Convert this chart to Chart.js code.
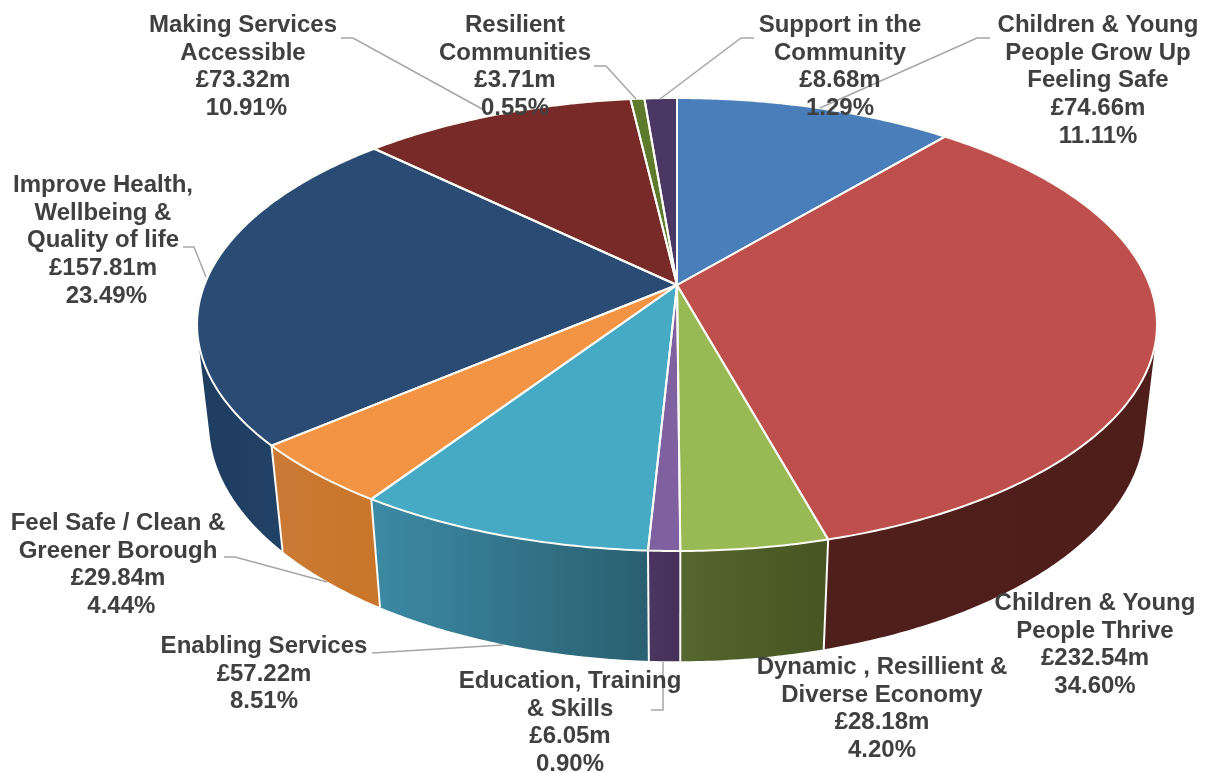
<!DOCTYPE html>
<html>
<head>
<meta charset="utf-8">
<style>
  html, body { margin: 0; padding: 0; background: #ffffff; }
  canvas { display: block; }
</style>
<script src="https://cdn.jsdelivr.net/npm/chart.js@4/dist/chart.umd.min.js"></script>
</head>
<body>
<canvas id="budget" width="1208" height="773"></canvas>
<script>
// Budget by outcome, in £m, clockwise from twelve o'clock.
const categories = [
  ["Children & Young", "People Grow Up", "Feeling Safe"],
  ["Children & Young", "People Thrive"],
  ["Dynamic , Resillient &", "Diverse Economy"],
  ["Education, Training", "& Skills"],
  ["Enabling Services"],
  ["Feel Safe / Clean &", "Greener Borough"],
  ["Improve Health,", "Wellbeing &", "Quality of life"],
  ["Making Services", "Accessible"],
  ["Resilient", "Communities"],
  ["Support in the", "Community"]
];
const budgetMillions = [74.66, 232.54, 28.18, 6.05, 57.22, 29.84, 157.81, 73.32, 3.71, 8.68];
const sharePercent = [11.11, 34.60, 4.20, 0.90, 8.51, 4.44, 23.49, 10.91, 0.55, 1.29];

// Slice styling.
const topColours = ["#4a7ebb", "#be4f4c", "#98b954", "#7f60a0", "#46aac5", "#f29443", "#2a4b74", "#772a27", "#5e7a2c", "#4a3764"];
const sideColours = [
  ["#2f5078", "#2f5078"], ["#4f1f1c", "#4f1e1b"], ["#55662e", "#465522"], ["#4a3660", "#443058"],
  ["#3c8aa5", "#2a5f70"], ["#cb7a36", "#c97529"], ["#1e3d60", "#25466c"], ["#4f1e1c", "#4f1e1c"],
  ["#3f5020", "#3f5020"], ["#32264a", "#32264a"]
];

// Label placement: centre x, first baseline, and whether the share line carries a leading space.
const labelLayout = [
  { x: 1098, y: 32, pad: false }, { x: 1095, y: 610, pad: false }, { x: 882, y: 674, pad: false },
  { x: 570, y: 688, pad: false }, { x: 264, y: 653, pad: false }, { x: 118, y: 530, pad: true },
  { x: 103, y: 192, pad: true }, { x: 243, y: 32, pad: true }, { x: 515, y: 32, pad: false },
  { x: 840, y: 32, pad: false }
];
const leaderLines = [
  [[990, 38], [977, 38], [820, 108]],
  null, null,
  [[651, 710], [663, 710], [663, 662]],
  [[372, 653], [503, 645]],
  [[224, 557], [235, 557], [327, 582]],
  [[183, 247], [194, 247], [206, 277]],
  [[341, 38], [353, 38], [484, 110]],
  [[594, 66], [606, 66], [636, 99]],
  [[754, 38], [741, 38], [660, 99]]
];

// Camera model for the tilted disc: pivot, horizontal and vertical scale, foreshortening,
// then the downward shift and depth change of the lower rim.
const view = { cx: 677, cy: 285, kx: 472.6, ky: 219.6, p: 0.1744, drop: 100.5, deep: 0.025 };

function project(angle, radial, lower) {
  const u = Math.cos(angle) * radial;
  const v = Math.sin(angle) * radial;
  const w = 1 - view.p * v + (lower ? view.deep : 0);
  return {
    x: view.cx + view.kx * u / w,
    y: view.cy + (view.ky * v + (lower ? view.drop : 0)) / w
  };
}

function rimPoints(start, end, lower) {
  const steps = Math.max(4, Math.ceil((end - start) / 0.01));
  const pts = [];
  for (let i = 0; i <= steps; i++) pts.push(project(start + (end - start) * i / steps, 1, lower));
  return pts;
}

// Adds one wall quad to the current path, always wound the same way so the union fills solid.
function addQuad(ctx, a, b, c, d) {
  const q = [a, b, c, d];
  let area = 0;
  q.forEach((p, i) => {
    const n = q[(i + 1) % 4];
    area += p.x * n.y - n.x * p.y;
  });
  if (area < 0) q.reverse();
  ctx.moveTo(q[0].x, q[0].y);
  ctx.lineTo(q[1].x, q[1].y);
  ctx.lineTo(q[2].x, q[2].y);
  ctx.lineTo(q[3].x, q[3].y);
  ctx.closePath();
}

const tiltedPie = {
  id: "tiltedPie",
  beforeDatasetsDraw(chart) {
    const ctx = chart.ctx;
    const arcs = chart.getDatasetMeta(0).data;
    ctx.save();
    ctx.lineJoin = "round";

    // Outer wall first, so the top faces can cover its back half.
    arcs.forEach((arc, i) => {
      const top = rimPoints(arc.startAngle, arc.endAngle, false);
      const low = rimPoints(arc.startAngle, arc.endAngle, true);
      const xs = top.concat(low).map(p => p.x);
      const grad = ctx.createLinearGradient(Math.min(...xs), 0, Math.max(...xs), 0);
      grad.addColorStop(0, sideColours[i][0]);
      grad.addColorStop(1, sideColours[i][1]);
      ctx.fillStyle = grad;
      ctx.beginPath();
      for (let k = 0; k < top.length - 1; k++) addQuad(ctx, top[k], top[k + 1], low[k + 1], low[k]);
      ctx.fill("nonzero");
    });
    ctx.strokeStyle = "#fbfbf6";
    ctx.lineWidth = 2;
    arcs.forEach(arc => {
      const a = project(arc.startAngle, 1, false);
      const b = project(arc.startAngle, 1, true);
      ctx.beginPath();
      ctx.moveTo(a.x, a.y);
      ctx.lineTo(b.x, b.y);
      ctx.stroke();
    });

    // Top faces.
    const hub = project(0, 0, false);
    arcs.forEach((arc, i) => {
      ctx.beginPath();
      ctx.moveTo(hub.x, hub.y);
      rimPoints(arc.startAngle, arc.endAngle, false).forEach(p => ctx.lineTo(p.x, p.y));
      ctx.closePath();
      ctx.fillStyle = topColours[i];
      ctx.fill();
    });
    arcs.forEach(arc => {
      ctx.beginPath();
      ctx.moveTo(hub.x, hub.y);
      rimPoints(arc.startAngle, arc.endAngle, false).forEach(p => ctx.lineTo(p.x, p.y));
      ctx.closePath();
      ctx.stroke();
    });
    ctx.restore();
    return false;
  },
  afterDraw(chart) {
    const ctx = chart.ctx;
    ctx.save();
    ctx.strokeStyle = "#a6a6a6";
    ctx.lineWidth = 1.5;
    leaderLines.forEach(line => {
      if (!line) return;
      ctx.beginPath();
      line.forEach((p, k) => k ? ctx.lineTo(p[0], p[1]) : ctx.moveTo(p[0], p[1]));
      ctx.stroke();
    });
    ctx.fillStyle = "#404040";
    ctx.font = 'bold 24px "Liberation Sans", Arial, sans-serif';
    ctx.textAlign = "center";
    ctx.textBaseline = "alphabetic";
    categories.forEach((name, i) => {
      const share = sharePercent[i].toFixed(2) + "%";
      const lines = name.concat(["£" + budgetMillions[i].toFixed(2) + "m", (labelLayout[i].pad ? " " : "") + share]);
      lines.forEach((text, k) => ctx.fillText(text, labelLayout[i].x, labelLayout[i].y + k * 27.7));
    });
    ctx.restore();
  }
};

new Chart(document.getElementById("budget"), {
  type: "pie",
  data: {
    labels: categories.map(c => c.join(" ")),
    datasets: [{ data: budgetMillions, backgroundColor: topColours }]
  },
  options: {
    responsive: false,
    animation: false,
    plugins: { legend: { display: false }, tooltip: { enabled: false } }
  },
  plugins: [tiltedPie]
});
</script>
</body>
</html>
